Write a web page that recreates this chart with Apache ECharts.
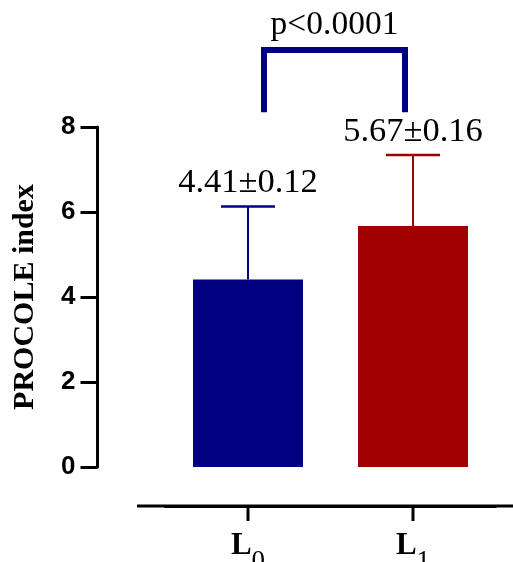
<!DOCTYPE html>
<html>
<head>
<meta charset="utf-8">
<script src="https://cdn.jsdelivr.net/npm/echarts@6/dist/echarts.min.js"></script>
<style>html,body{margin:0;padding:0;background:#fff}#c{width:513px;height:562px}</style>
</head>
<body>
<div id="c"></div>
<script>
const categories = ['L0', 'L1'];
const means = [4.41, 5.67];
const errorTops = [6.13, 7.34];
const valueLabels = ['4.41±0.12', '5.67±0.16'];
const pLabel = 'p<0.0001';
const bracketTop = 9.81;
const bracketBottom = 8.35;
const yTickValues = [0, 2, 4, 6, 8];

const colors = ['#000080', '#a00000'];
const serif = 'Liberation Serif';
const sans = 'Liberation Sans';
const xAxisOffset = 39;

const chart = echarts.init(document.getElementById('c'));
chart.setOption({
  animation: false,
  backgroundColor: '#fff',
  grid: { left: 165.5, right: 17.5, top: 127, bottom: 95, containLabel: false, outerBoundsMode: 'none' },
  xAxis: {
    type: 'category',
    data: categories,
    offset: xAxisOffset,
    axisLine: { show: true, onZero: false, lineStyle: { color: '#000', width: 3 } },
    axisTick: { show: false },
    axisLabel: {
      margin: 24,
      formatter: v => '{L|' + v.charAt(0) + '}{s|' + v.slice(1) + '}',
      rich: {
        L: { fontFamily: serif, fontWeight: 'bold', fontSize: 31, lineHeight: 31, color: '#000', verticalAlign: 'top' },
        s: { fontFamily: serif, fontSize: 27, lineHeight: 27, color: '#000', verticalAlign: 'top', padding: [18, 0, 0, 0] }
      }
    }
  },
  yAxis: {
    type: 'value',
    min: yTickValues[0],
    max: yTickValues[yTickValues.length - 1],
    interval: 2,
    offset: 68,
    name: 'PROCOLE index',
    nameLocation: 'middle',
    nameGap: 57,
    nameTextStyle: { fontFamily: serif, fontWeight: 'bold', fontSize: 30, color: '#000' },
    axisLine: { show: true, lineStyle: { color: '#000', width: 3 } },
    axisTick: { show: true, length: 17, lineStyle: { color: '#000', width: 3 } },
    axisLabel: { margin: 22, fontFamily: sans, fontWeight: 'bold', fontSize: 26, color: '#000' },
    splitLine: { show: false }
  },
  graphic: [
    { type: 'line', shape: { x1: 137, y1: 506, x2: 513, y2: 506 }, style: { stroke: '#000', lineWidth: 3 } }
  ],
  series: [
    {
      type: 'bar',
      barWidth: 110,
      data: means.map((v, i) => ({ value: v, itemStyle: { color: colors[i] } }))
    },
    {
      type: 'custom',
      clip: false,
      data: means.map((m, i) => [i, m, errorTops[i]]),
      renderItem: function (params, api) {
        const i = api.value(0);
        const base = api.coord([i, api.value(1)]);
        const top = api.coord([i, api.value(2)]);
        const zero = api.coord([i, 0]);
        const c = colors[i];
        const half = 27;
        const ty = zero[1] + xAxisOffset;
        return {
          type: 'group',
          children: [
            { type: 'line', shape: { x1: zero[0], y1: ty, x2: zero[0], y2: ty + 15 }, style: { stroke: '#000', lineWidth: 3 } },
            { type: 'line', shape: { x1: base[0], y1: base[1], x2: top[0], y2: top[1] }, style: { stroke: c, lineWidth: 2 } },
            { type: 'line', shape: { x1: top[0] - half, y1: top[1], x2: top[0] + half, y2: top[1] }, style: { stroke: c, lineWidth: 2.5 } },
            { type: 'text', x: top[0], y: top[1] - 6, style: { text: valueLabels[i], fontFamily: serif, fontSize: 34.5, fill: '#000', align: 'center', verticalAlign: 'bottom' } }
          ]
        };
      }
    },
    {
      type: 'custom',
      clip: false,
      data: [[0, 1, bracketTop, bracketBottom]],
      renderItem: function (params, api) {
        const p0 = api.coord([api.value(0), api.value(2)]);
        const p1 = api.coord([api.value(1), api.value(2)]);
        const b = api.coord([api.value(0), api.value(3)]);
        const xl = p0[0] + 16, xr = p1[0] - 8;
        return {
          type: 'group',
          children: [
            { type: 'polyline', shape: { points: [[xl, b[1]], [xl, p0[1]], [xr, p0[1]], [xr, b[1]]] }, style: { stroke: '#000080', lineWidth: 6, fill: null, lineJoin: 'miter', lineCap: 'butt' } },
            { type: 'text', x: (xl + xr) / 2, y: p0[1] - 8, style: { text: pLabel, fontFamily: serif, fontSize: 33.5, fill: '#000', align: 'center', verticalAlign: 'bottom' } }
          ]
        };
      }
    }
  ]
});
</script>
</body>
</html>
